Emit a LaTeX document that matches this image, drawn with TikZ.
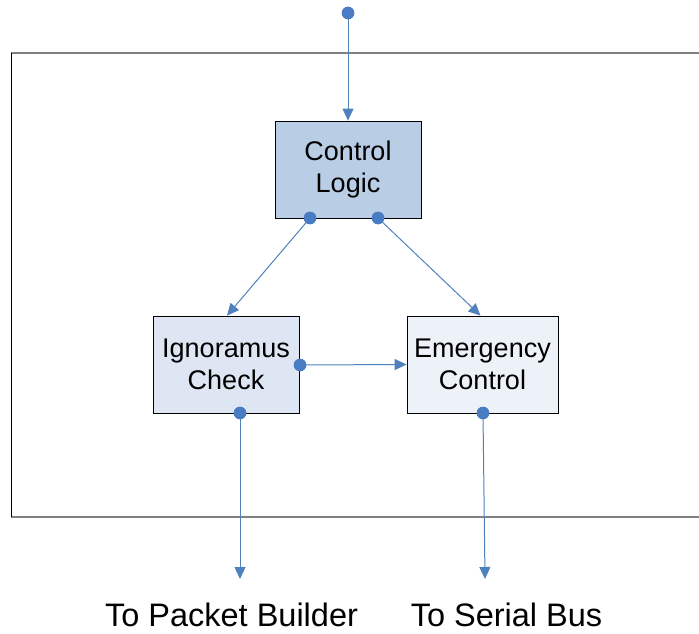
\documentclass[tikz,border=0pt]{standalone}
\usepackage{fontspec}
\setmainfont{Liberation Sans}
\usetikzlibrary{arrows.meta,calc}
\definecolor{linkblue}{HTML}{4F81BD}
\definecolor{dotblue}{HTML}{4A7CC3}
\definecolor{clfill}{HTML}{B9CDE5}
\definecolor{icfill}{HTML}{DDE6F2}
\definecolor{ecfill}{HTML}{EDF2F9}
\definecolor{framegray}{HTML}{808080}
\tikzset{
  blockbox/.style={draw=black, line width=0.8pt, align=center, inner sep=0pt,
    minimum height=97pt, font=\fontsize{27}{32}\selectfont},
  pin/.style={circle, fill=dotblue, inner sep=0pt, minimum size=12.5pt},
  link/.style={draw=linkblue, line width=1pt, -{Triangle[width=11pt,length=12pt]}},
  outlabel/.style={font=\fontsize{32.5}{38}\selectfont, inner sep=0pt, anchor=base}
}
\begin{document}
\begin{tikzpicture}[x=1pt,y=-1pt]
\useasboundingbox (0,0) rectangle (699,634);
% outer frame (right side runs off the picture)
\draw[framegray, line width=1.2pt] (699,53) -- (11,53);
\draw[framegray, line width=1.2pt] (11,517) -- (699,517);
\draw[black, line width=1pt] (11,53) -- (11,517);

\node[blockbox, fill=clfill, minimum width=146pt] (cl) at (348,169.5) {Control\\Logic};
\node[blockbox, fill=icfill, minimum width=146pt] (ic) at (226,364.5) {Ignoramus\\Check};
\node[blockbox, fill=ecfill, minimum width=151pt] (ec) at (482.5,364.5) {Emergency\\Control};

\node[pin] (top) at (348,13) {};
\node[pin] (cl1) at (310,218) {};
\node[pin] (cl2) at (378,218) {};
\node[pin] (icr) at (300,365) {};
\node[pin] (icb) at (240,413) {};
\node[pin] (ecb) at (483,413) {};

\coordinate (outl) at (240,579);
\coordinate (outr) at (485,579);

\draw[link] (top.center) -- (cl.north);
\draw[link] (cl1.center) -- ($(ic.north)+(1,0)$);
\draw[link] (cl2.center) -- ($(ec.north)+(-2,0)$);
\draw[link] (icr.center) -- (ec.west);
\draw[link] (icb.center) -- (outl);
\draw[link] (ecb.center) -- (outr);

\node[pin] at (top) {};
\node[pin] at (cl1) {};
\node[pin] at (cl2) {};
\node[pin] at (icr) {};
\node[pin] at (icb) {};
\node[pin] at (ecb) {};

\node[outlabel] (lbl1) at (231.5,626) {To Packet Builder};
\node[outlabel] (lbl2) at (506.5,626) {To Serial Bus};
\end{tikzpicture}
\end{document}
